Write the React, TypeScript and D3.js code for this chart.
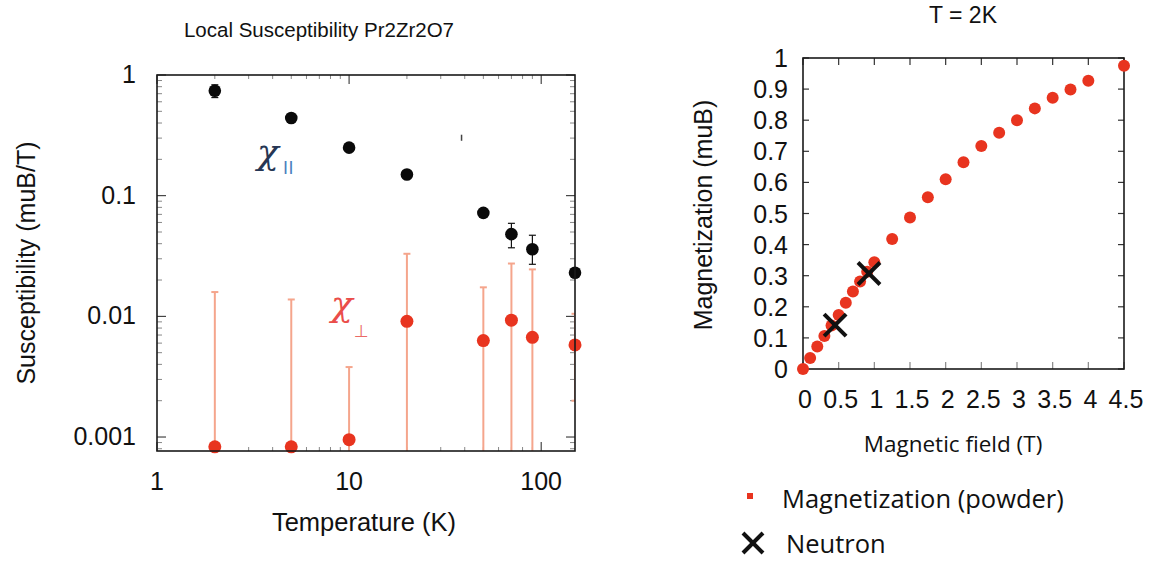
import React from "react";
import * as d3 from "d3";

// ---------- Left panel data: local susceptibility ----------
const temps = [2, 5, 10, 20, 50, 70, 90, 150];
const chiPar = [0.74, 0.44, 0.25, 0.15, 0.072, 0.048, 0.036, 0.023];
const chiParLo = [0.65, 0.42, 0.24, 0.145, 0.069, 0.037, 0.027, 0.022];
const chiParHi = [0.83, 0.46, 0.26, 0.155, 0.075, 0.059, 0.047, 0.024];
const chiPerp = [0.00083, 0.00083, 0.00095, 0.0091, 0.0063, 0.0093, 0.0067, 0.0058];
const chiPerpHi = [0.0159, 0.0138, 0.0038, 0.033, 0.0174, 0.0274, 0.0245, 0.0105];
const chiPerpLo: (number | null)[] = [null, null, null, null, null, null, null, 0.002];
const strayT = [38.5];
const strayLo = [0.285];
const strayHi = [0.32];
const xTickLabelsL = [1, 10, 100];
const yTickLabelsL = [1, 0.1, 0.01, 0.001];

// ---------- Right panel data: magnetization at T = 2K ----------
const fields = [0, 0.1, 0.2, 0.3, 0.4, 0.5, 0.6, 0.7, 0.8, 0.9, 1.0, 1.25, 1.5, 1.75, 2.0, 2.25, 2.5, 2.75, 3.0, 3.25, 3.5, 3.75, 4.0, 4.5];
const magn = [0, 0.035, 0.072, 0.106, 0.14, 0.174, 0.213, 0.249, 0.281, 0.313, 0.343, 0.418, 0.487, 0.552, 0.61, 0.665, 0.717, 0.76, 0.8, 0.838, 0.872, 0.899, 0.927, 0.975];
const neutronField = [0.45, 0.925];
const neutronMag = [0.141, 0.307];
const xTicksR = [0, 0.5, 1, 1.5, 2, 2.5, 3, 3.5, 4, 4.5];
const yTicksR = [0, 0.1, 0.2, 0.3, 0.4, 0.5, 0.6, 0.7, 0.8, 0.9, 1];

const SANS = "'Liberation Sans', Arial, sans-serif";
const CAL = "'Open Sans', 'Noto Sans', sans-serif";
const SERIF = "'DejaVu Serif', 'Liberation Serif', serif";
const RED = "#e8341f";
const ERR = "#f5a58c";

export default function App() {
  // left scales
  const L = { left: 157, right: 575, top: 75, bottom: 451 };
  const xL = d3.scaleLog().domain([1, 150]).range([L.left, L.right]);
  const yL = d3.scaleLog().domain([0.000766, 1]).range([L.bottom, L.top]);
  const xMinor = xL.ticks().filter((v) => v >= 1 && v <= 150);
  const yMinor = yL.ticks().filter((v) => v <= 1);
  const isMajor = (v: number) => Math.abs(Math.log10(v) - Math.round(Math.log10(v))) < 1e-6;

  // right scales
  const R = { left: 803, right: 1124, top: 58, bottom: 369 };
  const xR = d3.scaleLinear().domain([0, 4.5]).range([R.left, R.right]);
  const yR = d3.scaleLinear().domain([0, 1]).range([R.bottom, R.top]);

  const cross = (cx: number, cy: number, h: number, key: string, w = 4) => (
    <g key={key} stroke="#111" strokeWidth={w} strokeLinecap="butt">
      <line x1={cx - h} y1={cy - h} x2={cx + h} y2={cy + h} />
      <line x1={cx - h} y1={cy + h} x2={cx + h} y2={cy - h} />
    </g>
  );

  return (
    <svg width={1157} height={562} style={{ position: "absolute", left: 0, top: 0, background: "#fff" }}>
      <defs>
        <clipPath id="clipL">
          <rect x={L.left} y={L.top} width={L.right - L.left} height={L.bottom - L.top} />
        </clipPath>
      </defs>

      {/* ---------------- LEFT PANEL ---------------- */}
      <text x={319} y={37} textAnchor="middle" fontFamily={SANS} fontSize={20.5} fill="#111">
        Local Susceptibility Pr2Zr2O7
      </text>

      {/* ticks */}
      <g strokeWidth={1}>
        {xMinor.map((v, i) => {
          const len = isMajor(v) ? 9 : 4;
          const c = isMajor(v) ? "#222" : "#888";
          return (
            <g key={"xt" + i}>
              <line x1={xL(v)} x2={xL(v)} y1={L.top} y2={L.top + len} stroke={c} />
              <line x1={xL(v)} x2={xL(v)} y1={L.bottom} y2={L.bottom - len} stroke={c} />
            </g>
          );
        })}
        {yMinor.map((v, i) => {
          const len = isMajor(v) ? 9 : 5;
          const c = isMajor(v) ? "#222" : "#888";
          return (
            <g key={"yt" + i}>
              <line x1={L.left} x2={L.left + len} y1={yL(v)} y2={yL(v)} stroke={c} />
              <line x1={L.right} x2={L.right - len} y1={yL(v)} y2={yL(v)} stroke={c} />
            </g>
          );
        })}
      </g>

      <g clipPath="url(#clipL)">
        {/* perpendicular error bars */}
        {temps.map((t, i) => {
          const x = xL(t);
          const yTop = yL(chiPerpHi[i]);
          const lo = chiPerpLo[i];
          const yBot = lo === null ? L.bottom : yL(lo);
          return (
            <g key={"pe" + i} stroke={ERR} strokeWidth={2}>
              <line x1={x} x2={x} y1={yTop} y2={yBot} />
              <line x1={x - 3.5} x2={x + 3.5} y1={yTop} y2={yTop} />
              {lo !== null && <line x1={x - 3.5} x2={x + 3.5} y1={yBot} y2={yBot} />}
            </g>
          );
        })}
        {/* parallel error bars */}
        {temps.map((t, i) => {
          const x = xL(t);
          return (
            <g key={"ke" + i} stroke="#111" strokeWidth={1.2}>
              <line x1={x} x2={x} y1={yL(chiParHi[i])} y2={yL(chiParLo[i])} />
              <line x1={x - 3.5} x2={x + 3.5} y1={yL(chiParHi[i])} y2={yL(chiParHi[i])} />
              <line x1={x - 3.5} x2={x + 3.5} y1={yL(chiParLo[i])} y2={yL(chiParLo[i])} />
            </g>
          );
        })}
        {strayT.map((t, i) => (
          <line key={"st" + i} x1={xL(t)} x2={xL(t)} y1={yL(strayHi[i])} y2={yL(strayLo[i])} stroke="#444" strokeWidth={1.5} />
        ))}
      </g>

      {/* points (not clipped) */}
      {temps.map((t, i) => (
        <circle key={"pp" + i} cx={xL(t)} cy={yL(chiPerp[i])} r={6.5} fill={RED} />
      ))}
      {temps.map((t, i) => (
        <circle key={"kp" + i} cx={xL(t)} cy={yL(chiPar[i])} r={6.3} fill="#0a0a0a" />
      ))}

      {/* frame */}
      <rect x={L.left} y={L.top} width={L.right - L.left} height={L.bottom - L.top} fill="none" stroke="#1a1a1a" strokeWidth={1.6} />

      {/* tick labels */}
      {yTickLabelsL.map((v, i) => (
        <text key={"yl" + i} x={136} y={yL(v) + 8} textAnchor="end" fontFamily={SANS} fontSize={25} fill="#111">
          {String(v)}
        </text>
      ))}
      {xTickLabelsL.map((v, i) => (
        <text key={"xl" + i} x={xL(v)} y={490} textAnchor="middle" fontFamily={SANS} fontSize={25} fill="#111">
          {String(v)}
        </text>
      ))}

      <text x={364} y={531} textAnchor="middle" fontFamily={SANS} fontSize={25.5} fill="#111">
        Temperature (K)
      </text>
      <text transform="translate(35,263) rotate(-90)" textAnchor="middle" fontFamily={SANS} fontSize={25} fill="#111">
        Susceptibility (muB/T)
      </text>

      {/* chi labels */}
      <text x={257} y={164} fontFamily={SERIF} fontStyle="italic" fontSize={36} fill="#263654">
        χ
      </text>
      <text x={283} y={174} fontFamily={SANS} fontSize={18} fill="#4a7fc0" letterSpacing={0.5}>
        II
      </text>
      <text x={331} y={316} fontFamily={SERIF} fontStyle="italic" fontSize={36} fill="#ea4d4a">
        χ
      </text>
      <text x={354} y={337} fontFamily="'DejaVu Sans', sans-serif" fontSize={17} fill="#ea6a66">
        ⊥
      </text>

      {/* ---------------- RIGHT PANEL ---------------- */}
      <text x={963} y={23} textAnchor="middle" fontFamily={SANS} fontSize={23} fill="#111">
        T = 2K
      </text>

      <g stroke="#333" strokeWidth={1.2}>
        {xTicksR.map((v, i) => (
          <g key={"rxt" + i}>
            <line x1={xR(v)} x2={xR(v)} y1={R.top} y2={R.top + 7} />
            <line x1={xR(v)} x2={xR(v)} y1={R.bottom} y2={R.bottom - 7} stroke="#888" />
          </g>
        ))}
        {yTicksR.map((v, i) => (
          <g key={"ryt" + i}>
            <line x1={R.left} x2={R.left + 6} y1={yR(v)} y2={yR(v)} />
            <line x1={R.right} x2={R.right - 6} y1={yR(v)} y2={yR(v)} />
          </g>
        ))}
      </g>

      <rect x={R.left} y={R.top} width={R.right - R.left} height={R.bottom - R.top} fill="none" stroke="#1a1a1a" strokeWidth={1.6} />

      {fields.map((f, i) => (
        <circle key={"rm" + i} cx={xR(f)} cy={yR(magn[i])} r={6} fill={RED} />
      ))}
      {neutronField.map((f, i) => cross(xR(f), yR(neutronMag[i]), 11, "nx" + i))}

      {yTicksR.map((v, i) => (
        <text key={"ryl" + i} x={788} y={yR(v) + 9} textAnchor="end" fontFamily={SANS} fontSize={25} fill="#111">
          {String(v)}
        </text>
      ))}
      {xTicksR.map((v, i) => (
        <text key={"rxl" + i} x={xR(v) + 2} y={408} textAnchor="middle" fontFamily={SANS} fontSize={25} fill="#111">
          {String(v)}
        </text>
      ))}

      <text x={953} y={452} textAnchor="middle" fontFamily={CAL} fontSize={22.5} fill="#111">
        Magnetic field (T)
      </text>
      <text transform="translate(712,215) rotate(-90)" textAnchor="middle" fontFamily={SANS} fontSize={25} fill="#111">
        Magnetization (muB)
      </text>

      {/* legend */}
      <rect x={747} y={493} width={6} height={6} fill={RED} />
      <text x={782} y={508} fontFamily={CAL} fontSize={25.5} fill="#111">
        Magnetization (powder)
      </text>
      {cross(753, 543, 10, "legx", 4)}
      <text x={786} y={553} fontFamily={CAL} fontSize={25.5} fill="#111">
        Neutron
      </text>
    </svg>
  );
}
